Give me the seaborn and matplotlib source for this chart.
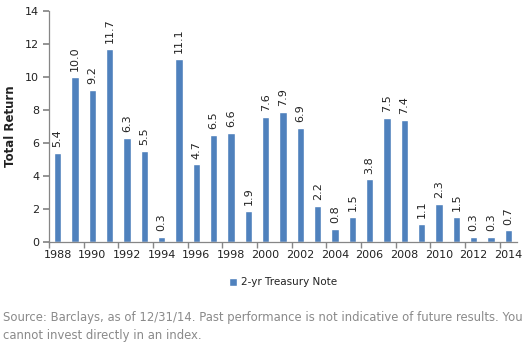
import matplotlib
matplotlib.use("Agg")
import matplotlib.pyplot as plt
import seaborn as sns
import pandas as pd
import numpy as np

years = [str(y) for y in range(1988, 2015)]
returns = [5.4, 10.0, 9.2, 11.7, 6.3, 5.5, 0.3, 11.1, 4.7, 6.5, 6.6, 1.9, 7.6, 7.9,
           6.9, 2.2, 0.8, 1.5, 3.8, 7.5, 7.4, 1.1, 2.3, 1.5, 0.3, 0.3, 0.7]
series_name = "2-yr Treasury Note"
y_label = "Total Return"
footnote = ("Source: Barclays, as of 12/31/14. Past performance is not indicative of future results. You\n"
            "cannot invest directly in an index.")

sns.set_theme(style="white")
plt.rcParams['font.family'] = ['DejaVu Sans']

df = pd.DataFrame({"Year": years, "Return": returns, "Series": series_name})

fig = plt.figure(figsize=(5.27, 3.53), dpi=100)
ax = fig.add_axes([49/527, 1-242/353, 468/527, 231/353])
sns.barplot(data=df, x="Year", y="Return", hue="Series", palette=["#4F81BD"],
            width=0.42, dodge=False, saturation=1, ax=ax, legend=True)

ax.set_ylim(0, 14)
ax.set_xlim(-0.5, len(years)-0.5)
ax.set_yticks(np.arange(0, 15, 2))
ax.tick_params(axis='y', labelsize=8, length=4, direction='out', left=True, pad=3,
               labelcolor='#222222', color='#868686')
pos = np.arange(len(years))
ax.set_xticks(pos[::2])
ax.set_xticklabels(years[::2], fontsize=8, color='#222222')
ax.tick_params(axis='x', which='major', length=0, pad=6)
ax.set_xticks(np.arange(-0.5, len(years), 2), minor=True)
ax.tick_params(axis='x', which='minor', length=4, bottom=True, color='#868686', direction='out')
ax.set_xlabel("")
ax.set_ylabel(y_label, fontsize=8.5, fontweight='bold', color='#222222', labelpad=6)

for s in ['top', 'right']:
    ax.spines[s].set_visible(False)
for s in ['left', 'bottom']:
    ax.spines[s].set_color('#868686')
    ax.spines[s].set_linewidth(0.9)

for i, v in enumerate(returns):
    ax.text(i, v + 0.35, f"{v:.1f}", rotation=90, ha='center', va='bottom',
            fontsize=8, color='#222222')

leg = ax.legend(loc='center', bbox_to_anchor=(0.5, -0.175), frameon=False,
                fontsize=7.5, handlelength=0.8, handleheight=0.8, handletextpad=0.4)
for t in leg.get_texts():
    t.set_color('#222222')

fig.text(3/527, 1-326/353, footnote, fontsize=8.4, color='#8a8a8a', ha='left', va='center',
         linespacing=1.5)

fig.savefig("out.png", dpi=100)
